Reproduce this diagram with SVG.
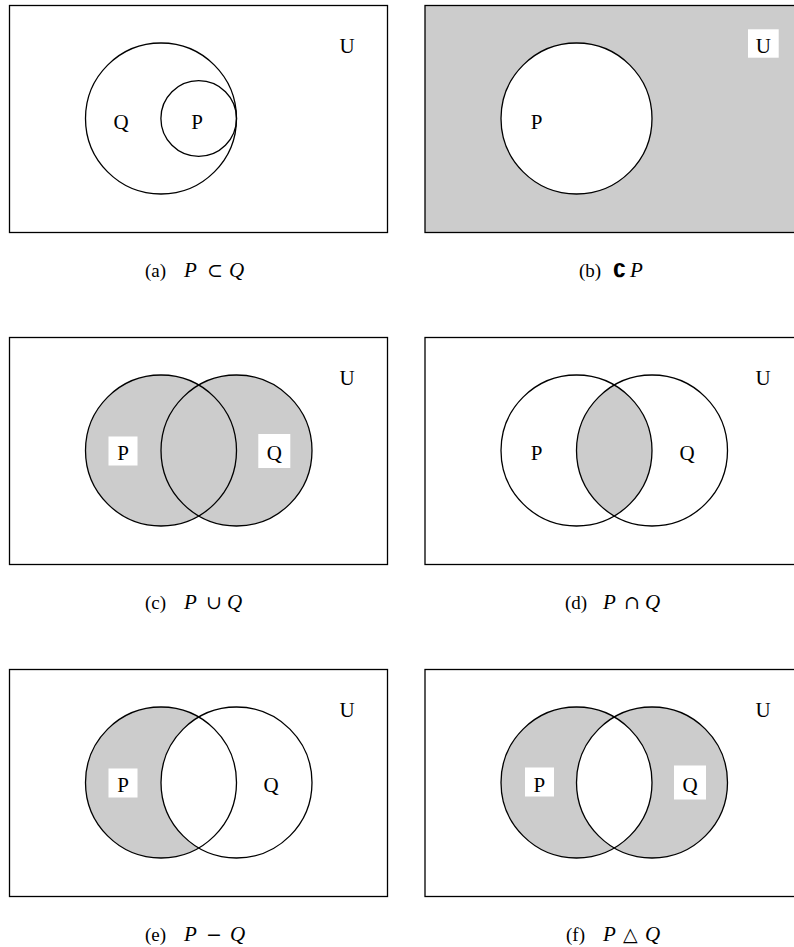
<svg xmlns="http://www.w3.org/2000/svg" width="794" height="947" viewBox="0 0 794 947">
<style>
.frame{fill:#fff;stroke:#000;stroke-width:1.3}
.frameg{fill:#ccc;stroke:#000;stroke-width:1.3}
.ln{fill:none;stroke:#000;stroke-width:1.3}
.g{fill:#ccc;stroke:none}
.w{fill:#fff;stroke:none}
.lbl{font-family:"Liberation Serif","DejaVu Serif",serif;font-size:21px;text-anchor:middle;fill:#000}
.cap{font-family:"Liberation Serif","DejaVu Serif",serif;font-size:19px;fill:#000}
.i{font-style:italic;font-size:21px}
.op{font-family:"DejaVu Serif",serif;font-size:19px}
.cm{font-family:"DejaVu Sans",sans-serif;font-weight:bold;font-size:19px}
</style>
<defs>
<clipPath id="clipQd"><circle cx="652" cy="450.5" r="75.5"/></clipPath>
<clipPath id="clipQf"><circle cx="652" cy="782.5" r="75.5"/></clipPath>
</defs>
<rect x="0" y="0" width="794" height="947" fill="#fff"/>

<g id="panel-a">
<rect class="frame" x="9.5" y="5.5" width="378" height="227"/>
<circle class="ln" cx="161" cy="118.5" r="75.5"/>
<circle class="ln" cx="198.7" cy="118.5" r="37.8"/>
<text class="lbl" x="121" y="129">Q</text>
<text class="lbl" x="197" y="129">P</text>
<text class="lbl" x="347" y="53.3">U</text>
<text class="cap" x="145" y="277">(a)<tspan class="i" x="184">P</tspan><tspan class="op" x="207">⊂</tspan><tspan class="i" x="229">Q</tspan></text>
</g>

<g id="panel-b">
<rect class="frameg" x="425" y="5.5" width="378" height="227"/>
<circle cx="576.5" cy="118.5" r="75.5" fill="#fff" stroke="#000" stroke-width="1.3"/>
<text class="lbl" x="536.5" y="129">P</text>
<rect class="w" x="748" y="29.3" width="30.7" height="28.4"/>
<text class="lbl" x="763.3" y="53.3">U</text>
<text class="cap" x="579" y="277">(b)<tspan class="cm" x="613">∁</tspan><tspan class="i" x="630">P</tspan></text>
</g>

<g id="panel-c">
<rect class="frame" x="9.5" y="337.5" width="378" height="227"/>
<circle class="g" cx="161" cy="450.5" r="75.5"/>
<circle class="g" cx="236.5" cy="450.5" r="75.5"/>
<circle class="ln" cx="161" cy="450.5" r="75.5"/>
<circle class="ln" cx="236.5" cy="450.5" r="75.5"/>
<rect class="w" x="108.5" y="436.5" width="29" height="29"/>
<text class="lbl" x="123" y="460">P</text>
<rect class="w" x="258.3" y="434" width="32" height="34"/>
<text class="lbl" x="274.3" y="460">Q</text>
<text class="lbl" x="347" y="385.3">U</text>
<text class="cap" x="145" y="609">(c)<tspan class="i" x="184">P</tspan><tspan class="op" x="206">∪</tspan><tspan class="i" x="227">Q</tspan></text>
</g>

<g id="panel-d">
<rect class="frame" x="425" y="337.5" width="378" height="227"/>
<circle class="g" cx="576.5" cy="450.5" r="75.5" clip-path="url(#clipQd)"/>
<circle class="ln" cx="576.5" cy="450.5" r="75.5"/>
<circle class="ln" cx="652" cy="450.5" r="75.5"/>
<text class="lbl" x="536.5" y="460">P</text>
<text class="lbl" x="687" y="460">Q</text>
<text class="lbl" x="763" y="385.3">U</text>
<text class="cap" x="565" y="609">(d)<tspan class="i" x="603">P</tspan><tspan class="op" x="624">∩</tspan><tspan class="i" x="645">Q</tspan></text>
</g>

<g id="panel-e">
<rect class="frame" x="9.5" y="669.5" width="378" height="227"/>
<circle class="g" cx="161" cy="782.5" r="75.5"/>
<circle class="w" cx="236.5" cy="782.5" r="75.5"/>
<circle class="ln" cx="161" cy="782.5" r="75.5"/>
<circle class="ln" cx="236.5" cy="782.5" r="75.5"/>
<rect class="w" x="108.5" y="768.5" width="29" height="29"/>
<text class="lbl" x="123" y="792">P</text>
<text class="lbl" x="271" y="792">Q</text>
<text class="lbl" x="347" y="717.3">U</text>
<text class="cap" x="145" y="941">(e)<tspan class="i" x="184">P</tspan><tspan class="op" x="206">−</tspan><tspan class="i" x="230">Q</tspan></text>
</g>

<g id="panel-f">
<rect class="frame" x="425" y="669.5" width="378" height="227"/>
<circle class="g" cx="576.5" cy="782.5" r="75.5"/>
<circle class="g" cx="652" cy="782.5" r="75.5"/>
<circle class="w" cx="576.5" cy="782.5" r="75.5" clip-path="url(#clipQf)"/>
<circle class="ln" cx="576.5" cy="782.5" r="75.5"/>
<circle class="ln" cx="652" cy="782.5" r="75.5"/>
<rect class="w" x="525" y="767.5" width="29" height="29"/>
<text class="lbl" x="539.3" y="792">P</text>
<rect class="w" x="674" y="765.5" width="32" height="34"/>
<text class="lbl" x="690" y="792">Q</text>
<text class="lbl" x="763" y="717.3">U</text>
<text class="cap" x="566" y="941">(f)<tspan class="i" x="603">P</tspan><tspan class="op" x="623">△</tspan><tspan class="i" x="645">Q</tspan></text>
</g>
</svg>
